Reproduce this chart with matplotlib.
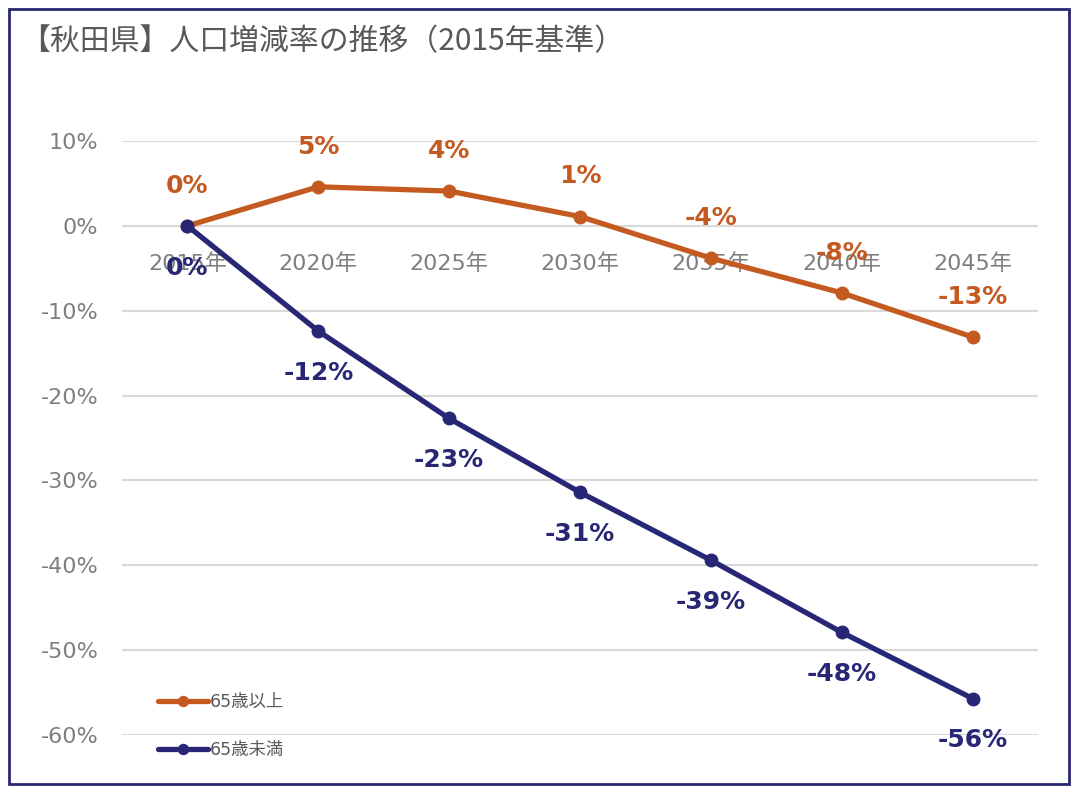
import matplotlib
matplotlib.use("Agg")
import matplotlib.pyplot as plt
from matplotlib.patches import Rectangle
from matplotlib.ticker import FuncFormatter

plt.rcParams['font.family'] = ['DejaVu Sans', 'Noto Sans CJK JP']

title = "【秋田県】人口増減率の推移（2015年基準）"
categories = ["2015年", "2020年", "2025年", "2030年", "2035年", "2040年", "2045年"]
series_names = ["65歳以上", "65歳未満"]
over65 = [0.0, 0.046, 0.041, 0.011, -0.038, -0.079, -0.131]
under65 = [0.0, -0.124, -0.227, -0.314, -0.394, -0.479, -0.557]
yticks = [0.1, 0.0, -0.1, -0.2, -0.3, -0.4, -0.5, -0.6]

c_orange = "#C55A20"
c_navy = "#272775"
c_grey = "#7F7F7F"

W, H = 1080, 794
fig = plt.figure(figsize=(W / 100, H / 100), dpi=100)
fig.patch.set_facecolor("white")

# frame border
fig.patches.append(Rectangle((9 / W, 1 - 784 / H), (1069 - 9) / W, (784 - 9) / H,
                             transform=fig.transFigure, fill=False,
                             edgecolor="#2A2772", linewidth=2))

ax = fig.add_axes([122 / W, 1 - 735 / H, (1038 - 122) / W, (735 - 141) / H])
x = list(range(len(categories)))

ax.set_xlim(-0.5, len(categories) - 0.5)
ax.set_ylim(-0.6, 0.1)
ax.set_yticks(yticks)
ax.yaxis.set_major_formatter(FuncFormatter(lambda v, p: f"{v:.0%}"))
ax.grid(axis="y", color="#D9D9D9", linewidth=1.5)
ax.set_axisbelow(True)
for s in ["top", "right", "left"]:
    ax.spines[s].set_visible(False)
ax.spines["bottom"].set_position(("data", 0))
ax.spines["bottom"].set_visible(False)
ax.set_xticks(x)
ax.set_xticklabels(categories)
ax.tick_params(axis="x", length=0, pad=20, labelsize=16, labelcolor=c_grey)
ax.tick_params(axis="y", length=0, pad=17, labelsize=16, labelcolor=c_grey)

l1, = ax.plot(x, over65, color=c_orange, linewidth=3.8, marker="o", markersize=9,
              solid_capstyle="round", zorder=3)
l2, = ax.plot(x, under65, color=c_navy, linewidth=3.8, marker="o", markersize=9,
              solid_capstyle="round", zorder=3)

for xi, v in zip(x, over65):
    ax.annotate(f"{v:.0%}", (xi, v), xytext=(0, 29), textcoords="offset points",
                ha="center", va="center", fontsize=18, fontweight="bold",
                color=c_orange, zorder=4)
for xi, v in zip(x, under65):
    ax.annotate(f"{v:.0%}", (xi, v), xytext=(0, -30), textcoords="offset points",
                ha="center", va="center", fontsize=18, fontweight="bold",
                color=c_navy, zorder=4)

leg = ax.legend([l1, l2], series_names, loc="lower left",
                bbox_to_anchor=(20 / (1038 - 122), (735 - 775) / (735 - 141)),
                frameon=False,
                handlelength=2.9, handletextpad=0.1, labelspacing=1.75,
                markerscale=0.8,
                prop={'family': ['DejaVu Sans', 'Noto Sans CJK JP'], 'size': 12.5})
for t in leg.get_texts():
    t.set_color("#595959")

fig.text(20 / W, 1 - 42 / H, title, fontsize=21.5, color="#595959",
         ha="left", va="center", family=['Noto Sans CJK JP', 'DejaVu Sans'])

fig.savefig("out.png", dpi=100, facecolor="white")
